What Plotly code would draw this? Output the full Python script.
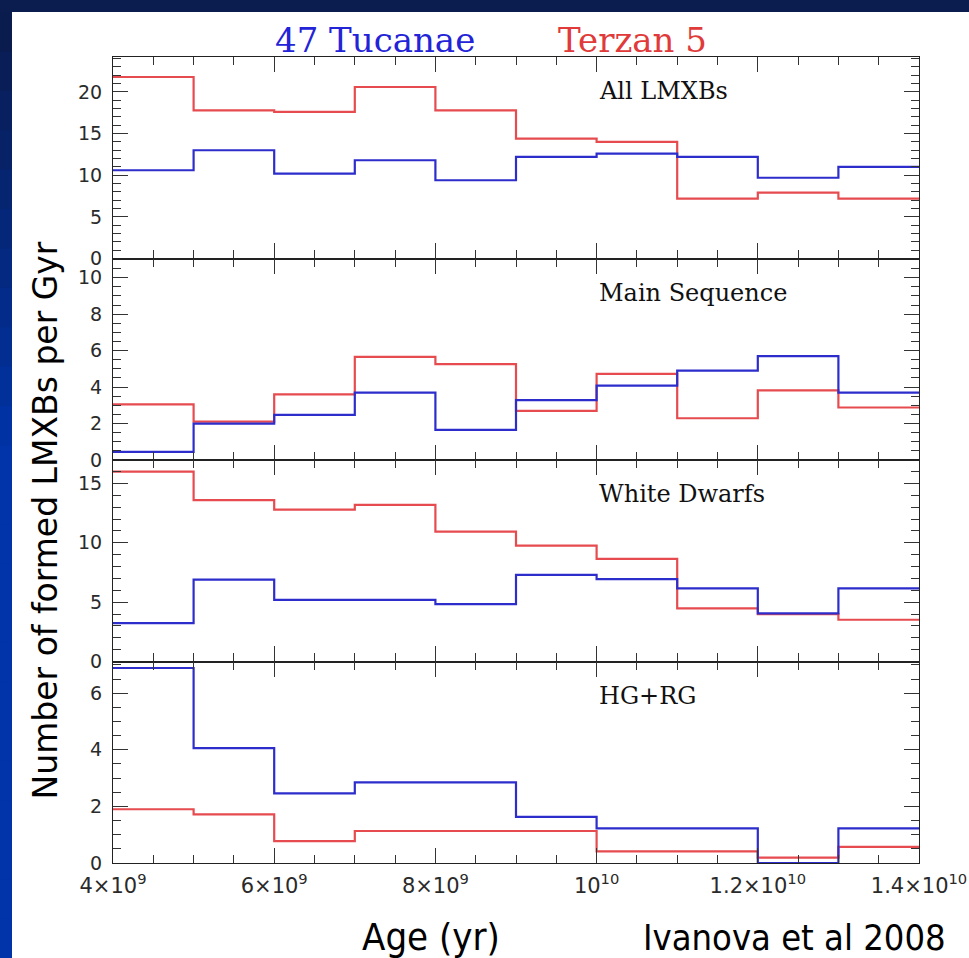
import plotly.graph_objects as go
from plotly.subplots import make_subplots

# ---------------- data ----------------
bin_edges = [4e9, 5e9, 6e9, 7e9, 8e9, 9e9, 1.0e10, 1.1e10, 1.2e10, 1.3e10, 1.4e10]

panel_names = ["All LMXBs", "Main Sequence", "White Dwarfs", "HG+RG"]

tuc_all = [10.6, 13.0, 10.2, 11.8, 9.4, 12.2, 12.6, 12.2, 9.7, 11.0]
ter_all = [21.8, 17.8, 17.6, 20.6, 17.8, 14.4, 14.0, 7.2, 7.9, 7.2]

tuc_ms = [0.45, 2.0, 2.47, 3.7, 1.65, 3.28, 4.08, 4.9, 5.7, 3.7]
ter_ms = [3.05, 2.1, 3.6, 5.65, 5.26, 2.69, 4.72, 2.29, 3.82, 2.88]

tuc_wd = [3.24, 6.9, 5.2, 5.2, 4.84, 7.3, 6.95, 6.16, 4.05, 6.16]
ter_wd = [16.0, 13.6, 12.8, 13.2, 10.95, 9.76, 8.64, 4.47, 4.0, 3.52]

tuc_hg = [6.89, 4.06, 2.46, 2.85, 2.85, 1.63, 1.22, 1.22, 0.0, 1.22]
ter_hg = [1.9, 1.72, 0.77, 1.13, 1.13, 1.13, 0.41, 0.41, 0.19, 0.57]

x_tickvals = [4e9, 6e9, 8e9, 1.0e10, 1.2e10, 1.4e10]
x_ticktext = ["4×10<sup>9</sup>", "6×10<sup>9</sup>", "8×10<sup>9</sup>",
              "10<sup>10</sup>", "1.2×10<sup>10</sup>", "1.4×10<sup>10</sup>"]

y_ranges = [[0, 24.2], [0, 11.05], [0, 16.98], [0, 7.12]]
y_dticks = [5, 2, 5, 2]
y_minor = [1, 0.5, 1, 0.5]

tuc_series = [tuc_all, tuc_ms, tuc_wd, tuc_hg]
ter_series = [ter_all, ter_ms, ter_wd, ter_hg]

BLUE = "#2d2dcc"
RED = "#e64b4f"

# ---------------- figure ----------------
fig = make_subplots(rows=4, cols=1, shared_xaxes=True, vertical_spacing=0)

for i in range(4):
    r = i + 1
    tv = tuc_series[i] + [tuc_series[i][-1]]
    rv = ter_series[i] + [ter_series[i][-1]]
    fig.add_trace(go.Scatter(x=bin_edges, y=rv, mode="lines", line_shape="hv",
                             line=dict(color=RED, width=2.2), showlegend=False,
                             hoverinfo="skip"), row=r, col=1)
    fig.add_trace(go.Scatter(x=bin_edges, y=tv, mode="lines", line_shape="hv",
                             line=dict(color=BLUE, width=2.2), showlegend=False,
                             hoverinfo="skip"), row=r, col=1)

ytick_font = dict(family="DejaVu Sans", size=19, color="#2a2a2a")
xtick_font = dict(family="DejaVu Sans", size=21, color="#2a2a2a")

for i in range(4):
    r = i + 1
    fig.update_yaxes(range=y_ranges[i], dtick=y_dticks[i], tick0=0,
                     ticks="inside", ticklen=15, tickwidth=1.2, tickcolor="#333",
                     minor=dict(ticks="inside", dtick=y_minor[i], ticklen=8,
                                tickwidth=1.2, tickcolor="#333"),
                     showline=True, linecolor="#222", linewidth=1.1, mirror="ticks",
                     showgrid=False, zeroline=False, tickfont=ytick_font,
                     ticklabelstandoff=6, automargin=False, row=r, col=1)
    fig.update_xaxes(range=[4e9, 1.4e10], tickvals=x_tickvals,
                     ticktext=x_ticktext if r == 4 else None,
                     showticklabels=(r == 4),
                     ticks="inside", ticklen=15, tickwidth=1.2, tickcolor="#333",
                     minor=dict(ticks="inside", tickvals=[4e9 + k * 5e8 for k in range(21)],
                                ticklen=8, tickwidth=1.2, tickcolor="#333"),
                     showline=True, linecolor="#222", linewidth=1.1, mirror="ticks",
                     showgrid=False, zeroline=False, tickfont=xtick_font,
                     ticklabelstandoff=4, automargin=False, row=r, col=1)

annotations = []
label_font = dict(family="DejaVu Serif", size=24, color="#111")
for i in range(4):
    yd = "y domain" if i == 0 else "y%d domain" % (i + 1)
    annotations.append(dict(text=panel_names[i], x=1.0e10, xref="x4",
                            y=1, yref=yd, yshift=-34, xanchor="left",
                            yanchor="middle", showarrow=False, font=label_font))

title_font = "DejaVu Serif"
annotations.append(dict(text="47 Tucanae", x=0.3245, xref="paper", y=1, yref="paper",
                        yshift=17, xanchor="center", yanchor="middle", showarrow=False,
                        font=dict(family=title_font, size=34, color="#2323d8")))
annotations.append(dict(text="Terzan 5", x=0.6445, xref="paper", y=1, yref="paper",
                        yshift=17, xanchor="center", yanchor="middle", showarrow=False,
                        font=dict(family=title_font, size=34, color="#e03a3a")))
annotations.append(dict(text="Number of formed LMXBs per Gyr", x=-0.0844, xref="paper",
                        y=0.425, yref="paper", textangle=-90, xanchor="center",
                        yanchor="middle", showarrow=False,
                        font=dict(family="DejaVu Sans", size=33, color="#000")))
annotations.append(dict(text="Age (yr)", x=0.395, xref="paper", y=0, yref="paper",
                        yshift=-74, xanchor="center", yanchor="middle", showarrow=False,
                        font=dict(family="DejaVu Sans Condensed, DejaVu Sans", size=38, color="#000")))
annotations.append(dict(text="Ivanova et al 2008", x=1.036, xref="paper", y=0, yref="paper",
                        yshift=-74, xanchor="right", yanchor="middle", showarrow=False,
                        font=dict(family="DejaVu Sans Condensed, DejaVu Sans", size=36, color="#000")))

# dark slide border (top band and left band with vertical gradient)
W, H = 969, 958
L, T, PW, PH = 113, 57, 806, 806
def px_x(p):
    return (p - L) / PW
def px_y(p):
    return (T + PH - p) / PH

shapes = [dict(type="rect", xref="paper", yref="paper", x0=px_x(0), x1=px_x(W),
               y0=px_y(12), y1=px_y(0), fillcolor="#0b1c4e", line=dict(width=0), layer="below")]
n = 24
c0 = (10, 28, 78)
c1 = (0, 52, 168)
for k in range(n):
    t = k / (n - 1)
    t2 = min(1.0, t * 2.2)
    col = tuple(int(c0[j] + (c1[j] - c0[j]) * t2) for j in range(3))
    ya = 12 + (H - 12) * k / n
    yb = 12 + (H - 12) * (k + 1) / n
    shapes.append(dict(type="rect", xref="paper", yref="paper", x0=px_x(0), x1=px_x(12),
                       y0=px_y(yb + 1), y1=px_y(ya), fillcolor="rgb(%d,%d,%d)" % col,
                       line=dict(width=0), layer="below"))

fig.update_layout(width=W, height=H, margin=dict(l=L, r=W - L - PW, t=T, b=H - T - PH,
                                                 autoexpand=False),
                  paper_bgcolor="white", plot_bgcolor="white",
                  annotations=annotations, shapes=shapes, showlegend=False)

fig.write_html("out.html", config={"displayModeBar": False},
               post_script="document.body.style.margin='0';document.body.style.overflow='hidden';")
